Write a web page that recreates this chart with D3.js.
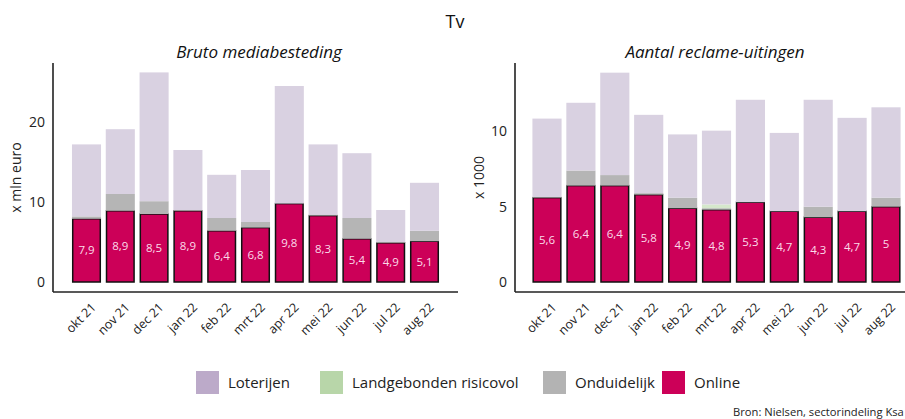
<!DOCTYPE html>
<html>
<head>
<meta charset="utf-8">
<script src="https://cdn.jsdelivr.net/npm/d3@7"></script>
<style>
  body { margin: 0; background: #fff; }
  svg { font-family: "Open Sans", sans-serif; }
</style>
</head>
<body>
<div id="main-frame"></div>
<script>
var months = ["okt 21", "nov 21", "dec 21", "jan 22", "feb 22", "mrt 22", "apr 22", "mei 22", "jun 22", "jul 22", "aug 22"];
var seriesNames = ["Online", "Onduidelijk", "Landgebonden risicovol", "Loterijen"];
var legendOrder = ["Loterijen", "Landgebonden risicovol", "Onduidelijk", "Online"];

// bruto mediabesteding, x mln euro
var spendOnline = [7.9, 8.9, 8.5, 8.9, 6.4, 6.8, 9.8, 8.3, 5.4, 4.9, 5.1];
var spendOnduidelijk = [0.3, 2.1, 1.6, 0.1, 1.6, 0.7, 0.0, 0.1, 2.6, 0.1, 1.3];
var spendLandgebonden = [0, 0, 0, 0, 0, 0, 0, 0, 0, 0, 0];
var spendLoterijen = [9.0, 8.1, 16.1, 7.5, 5.4, 6.5, 14.7, 8.8, 8.1, 4.0, 6.0];
var spendTicks = [0, 10, 20];

// aantal reclame-uitingen, x 1000
var countOnline = [5.6, 6.4, 6.4, 5.8, 4.9, 4.8, 5.3, 4.7, 4.3, 4.7, 5];
var countOnduidelijk = [0.05, 1.0, 0.7, 0.1, 0.7, 0.1, 0.0, 0.0, 0.7, 0.0, 0.6];
var countLandgebonden = [0, 0, 0, 0, 0, 0.25, 0, 0, 0, 0, 0];
var countLoterijen = [5.2, 4.5, 6.8, 5.2, 4.2, 4.9, 6.8, 5.2, 7.1, 6.2, 6.0];
var countTicks = [0, 5, 10];

var colors = {
  "Loterijen": "#bcaac9",
  "Landgebonden risicovol": "#b8d6a9",
  "Onduidelijk": "#b3b3b3",
  "Online": "#cc0058"
};
var barColors = {
  "Loterijen": "#d9d1e1",
  "Landgebonden risicovol": "#d5e8cc",
  "Onduidelijk": "#b5b5b5",
  "Online": "#cc0058"
};

var width = 905;
var height = 419;
var mainSVG;

function buildRows(online, ond, land, lot) {
  return months.map(function(m, i) {
    return { month: m, "Online": online[i], "Onduidelijk": ond[i], "Landgebonden risicovol": land[i], "Loterijen": lot[i] };
  });
}

function drawPanel(p) {
  var g = mainSVG.append("g");
  var rows = buildRows(p.online, p.ond, p.land, p.lot);

  var x = d3.scaleBand()
    .domain(months)
    .range([p.firstCenter - p.step / 2, p.firstCenter + p.step * 10.5])
    .paddingInner(0.14)
    .paddingOuter(0.07);

  // scale pinned on two tick positions
  var y = d3.scaleLinear()
    .domain(p.domain)
    .range(p.domainPx);

  var stacked = d3.stack().keys(seriesNames)(rows);

  stacked.forEach(function(layer) {
    var isOnline = layer.key === "Online";
    g.append("g").selectAll("rect")
      .data(layer.filter(function(d) { return d[1] - d[0] > 0; }))
      .enter().append("rect")
      .attr("x", function(d) { return x(d.data.month) + (isOnline ? 0.75 : 0); })
      .attr("width", x.bandwidth() - (isOnline ? 1.5 : 0))
      .attr("y", function(d) { return y(d[1]); })
      .attr("height", function(d) { return y(d[0]) - y(d[1]); })
      .style("fill", barColors[layer.key])
      .style("stroke", isOnline ? "#111" : "none")
      .style("stroke-width", isOnline ? 1.5 : 0);
  });

  // value labels on the online bars
  g.append("g").selectAll("text")
    .data(rows)
    .enter().append("text")
    .attr("x", function(d) { return x(d.month) + x.bandwidth() / 2; })
    .attr("y", function(d) { return y(d["Online"] / 2); })
    .attr("dy", "0.35em")
    .attr("text-anchor", "middle")
    .style("fill", "#fbdbe9")
    .style("font-size", "11.5px")
    .text(function(d) { return String(d["Online"]).replace(".", ","); });

  // axes
  var yAxis = d3.axisLeft(y).tickValues(p.ticks).tickFormat(d3.format("d")).tickSize(0).tickPadding(8);
  var ya = g.append("g")
    .attr("transform", "translate(" + p.left + ",0)")
    .call(yAxis);
  ya.select(".domain").remove();
  ya.selectAll("text").style("font-size", "14px").style("fill", "#222").style("font-family", "'Open Sans', sans-serif");

  g.append("line")
    .attr("x1", p.left).attr("x2", p.left)
    .attr("y1", p.top).attr("y2", p.axisY)
    .style("stroke", "#222").style("stroke-width", 1.6);
  g.append("line")
    .attr("x1", p.left).attr("x2", p.right)
    .attr("y1", p.axisY).attr("y2", p.axisY)
    .style("stroke", "#222").style("stroke-width", 1.6);

  g.append("g").selectAll("text")
    .data(months)
    .enter().append("text")
    .attr("transform", function(d) {
      return "translate(" + (x(d) + x.bandwidth() / 2 + 4) + "," + (p.axisY + 10) + ") rotate(-45)";
    })
    .attr("text-anchor", "end")
    .attr("dy", "0.7em")
    .style("font-size", "12.5px")
    .style("fill", "#222")
    .text(function(d) { return d; });

  g.append("text")
    .attr("transform", "translate(" + p.yTitleX + "," + ((p.top + p.axisY) / 2) + ") rotate(-90)")
    .attr("text-anchor", "middle")
    .style("font-size", "14px")
    .style("fill", "#222")
    .text(p.yTitle);

  g.append("text")
    .attr("x", p.titleX)
    .attr("y", 58)
    .attr("text-anchor", "middle")
    .style("font-size", "17px")
    .style("font-style", "italic")
    .style("fill", "#111")
    .text(p.title);
}

mainSVG = d3.select("#main-frame")
  .append("svg")
  .attr("width", width)
  .attr("height", height);

mainSVG.append("text")
  .attr("x", 455)
  .attr("y", 28)
  .attr("text-anchor", "middle")
  .style("font-size", "18px")
  .style("fill", "#111")
  .text("Tv");

drawPanel({
  online: spendOnline, ond: spendOnduidelijk, land: spendLandgebonden, lot: spendLoterijen,
  ticks: spendTicks, domain: [0, 10], domainPx: [282, 202],
  left: 53, right: 458, top: 63, axisY: 292,
  firstCenter: 86.5, step: 33.8,
  yTitle: "x mln euro", yTitleX: 21,
  title: "Bruto mediabesteding", titleX: 259
});

drawPanel({
  online: countOnline, ond: countOnduidelijk, land: countLandgebonden, lot: countLoterijen,
  ticks: countTicks, domain: [0, 5], domainPx: [282, 206.7],
  left: 515, right: 905, top: 63, axisY: 292,
  firstCenter: 547, step: 33.9,
  yTitle: "x 1000", yTitleX: 484,
  title: "Aantal reclame-uitingen", titleX: 715
});

// legend
var legendX = [196, 320, 543, 662];
var legend = mainSVG.append("g");
legendOrder.forEach(function(name, i) {
  legend.append("rect")
    .attr("x", legendX[i]).attr("y", 371)
    .attr("width", 23).attr("height", 23)
    .style("fill", colors[name]);
  legend.append("text")
    .attr("x", legendX[i] + 32).attr("y", 383)
    .attr("dy", "0.35em")
    .style("font-size", "15px")
    .style("fill", "#222")
    .text(name);
});

mainSVG.append("text")
  .attr("x", 733)
  .attr("y", 416)
  .style("font-size", "11.2px")
  .style("fill", "#222")
  .text("Bron: Nielsen, sectorindeling Ksa");
</script>
</body>
</html>
